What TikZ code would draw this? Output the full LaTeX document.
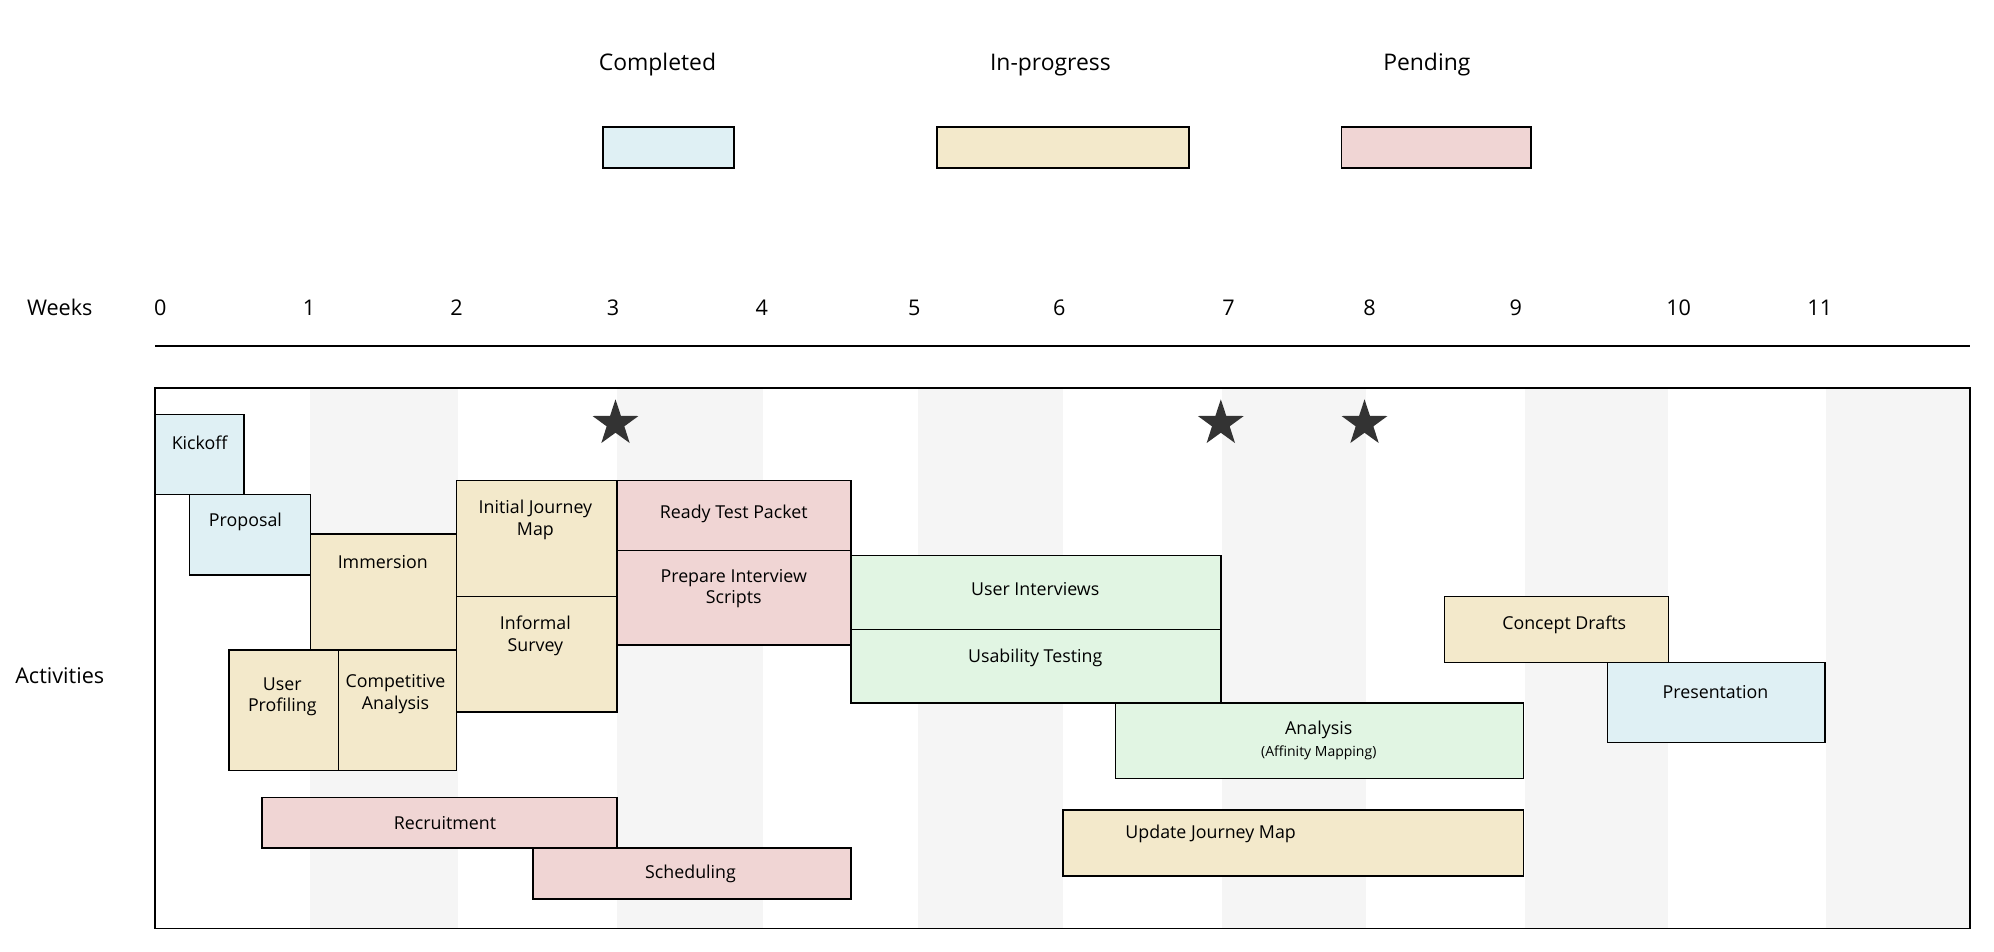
\documentclass[tikz,border=0pt]{standalone}
\usepackage{fontspec}
\setmainfont{Open Sans}
\usetikzlibrary{shapes.geometric}
\definecolor{cblue}{HTML}{DFF0F4}
\definecolor{cyel}{HTML}{F3E9CB}
\definecolor{cpink}{HTML}{F0D5D4}
\definecolor{cgreen}{HTML}{E1F5E3}
\definecolor{cstripe}{HTML}{F5F5F5}
\definecolor{cstar}{HTML}{333333}
\tikzset{box/.style={draw=black,line width=0.6pt},
 lbl/.style={font=\fontsize{7}{8.5}\selectfont,align=center,inner sep=0pt},
 ax/.style={font=\fontsize{8.5}{10}\selectfont,inner sep=0pt},
 leg/.style={font=\fontsize{9}{11}\selectfont,inner sep=0pt},
 star5/.style={star,star points=5,star point ratio=2.6,fill=cstar,minimum size=19pt,inner sep=0pt}}
\newcommand{\task}[9]{\draw[box,fill=#6] (#2,#3) rectangle (#4,#5);
 \node[lbl] (#1) at (#7,#8) {#9};}
\begin{document}
\begin{tikzpicture}[x=0.5pt,y=-0.5pt]
\useasboundingbox (0,0) rectangle (1568,748.6);
% legend
\node[leg] (lc) at (517,51) {Completed};
\node[leg] (li) at (826,51) {In-progress};
\node[leg] (lp) at (1122,51) {Pending};
\draw[box,fill=cblue] (474,100) rectangle (577,132);
\draw[box,fill=cyel] (737,100) rectangle (935,132);
\draw[box,fill=cpink] (1055,100) rectangle (1204,132);
% axis
\node[ax] (wk) at (47,242) {Weeks};
\foreach \x/\n in {126/0,243/1,359/2,482/3,599/4,719/5,833/6,966/7,1077/8,1192/9,1320/10,1431/11}
  \node[ax] (w\n) at (\x,242) {\n};
\draw[line width=0.6pt] (122,272) -- (1549,272);
% stripes
\foreach \a/\b in {244/360,485/600,722/836,961/1074,1199/1312,1436/1549}
  \fill[cstripe] (\a,305) rectangle (\b,730);
\draw[line width=0.6pt] (122,305) rectangle (1549,730);
\node[ax] (act) at (47,531) {Activities};
% stars
\node[star5] (s1) at (484,333) {};
\node[star5] (s2) at (960,333) {};
\node[star5] (s3) at (1073,333) {};
% tasks
\task{kick}{122}{326}{192}{389}{cblue}{157}{348}{Kickoff}
\task{prop}{149}{389}{244}{452}{cblue}{193}{410}{Proposal}
\task{imm}{244}{420}{359}{511}{cyel}{301}{442}{Immersion}
\task{up}{180}{511}{266}{606}{cyel}{222}{548}{User\\Profiling}
\task{ca}{266}{511}{359}{606}{cyel}{311}{546}{Competitive\\Analysis}
\task{ijm}{359}{378}{485}{469}{cyel}{421}{409}{Initial Journey\\Map}
\task{is}{359}{469}{485}{560}{cyel}{421}{500}{Informal\\Survey}
\task{rtp}{485}{378}{669}{433}{cpink}{577}{404}{Ready Test Packet}
\task{pis}{485}{433}{669}{507}{cpink}{577}{463}{Prepare Interview\\Scripts}
\task{ui}{669}{437}{960}{495}{cgreen}{814}{463}{User Interviews}
\task{ut}{669}{495}{960}{553}{cgreen}{814}{517}{Usability Testing}
\task{an}{877}{553}{1198}{612}{cgreen}{1037}{574}{Analysis}
\node[lbl,font=\fontsize{5.5}{6.5}\selectfont] (anb) at (1037,592) {(Affinity Mapping)};
\task{cd}{1136}{469}{1312}{521}{cyel}{1230}{491}{Concept Drafts}
\task{pr}{1264}{521}{1435}{584}{cblue}{1349}{544}{Presentation}
\task{rec}{206}{627}{485}{667}{cpink}{350}{647}{Recruitment}
\task{sch}{419}{667}{669}{707}{cpink}{543}{687}{Scheduling}
\task{ujm}{836}{637}{1198}{689}{cyel}{952}{656}{Update Journey Map}
\end{tikzpicture}
\end{document}
